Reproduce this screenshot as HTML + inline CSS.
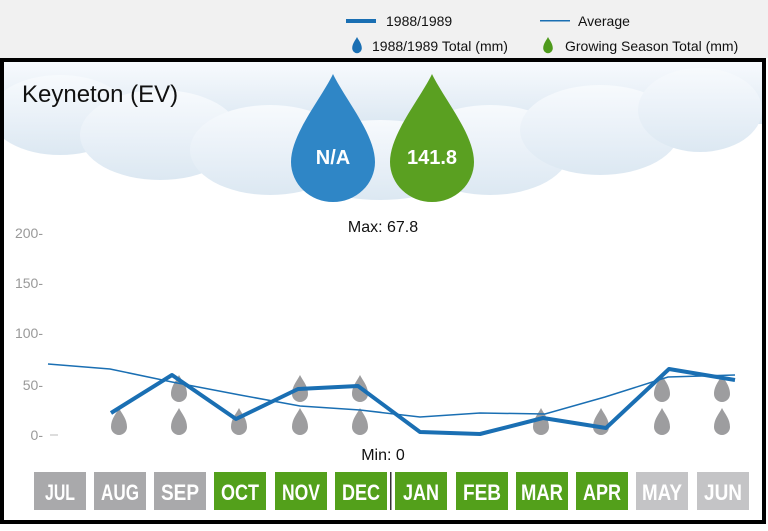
<!DOCTYPE html>
<html><head><meta charset="utf-8"><style>
body{margin:0;width:768px;height:526px;overflow:hidden;background:#fff;font-family:"Liberation Sans",sans-serif}
</style></head><body>
<svg width="768" height="526" viewBox="0 0 768 526" xmlns="http://www.w3.org/2000/svg" font-family="Liberation Sans, sans-serif">
<defs>
<path id="d" d="M0,0 C3,6 8,11 8,19 A8,8 0 0 1 -8,19 C-8,11 -3,6 0,0Z"/>
<path id="bd" d="M0,0 C12,25 42,60 42,88 A42,40 0 0 1 -42,88 C-42,60 -12,25 0,0Z"/>
<linearGradient id="cl" x1="0" y1="0" x2="0" y2="1"><stop offset="0" stop-color="#f7fafd"/><stop offset="0.5" stop-color="#eaf1f8"/><stop offset="1" stop-color="#dce8f2"/></linearGradient>
<clipPath id="fc"><rect x="4" y="62" width="758" height="458"/></clipPath>
</defs>
<rect x="0" y="0" width="768" height="58" fill="#f1f1f1"/>
<text x="386" y="26" font-size="14" fill="#111">1988/1989</text>
<rect x="346" y="19" width="30" height="4" fill="#1a6fb3"/>
<rect x="540" y="20" width="30" height="1.5" fill="#1a6fb3"/>
<text x="578" y="26" font-size="14" fill="#111">Average</text>
<use href="#d" transform="translate(357,37) scale(0.6)" fill="#1a6fb3"/>
<text x="372" y="51" font-size="14" fill="#111">1988/1989 Total (mm)</text>
<use href="#d" transform="translate(548,37) scale(0.6)" fill="#4e9a1c"/>
<text x="565" y="51" font-size="14" fill="#111">Growing Season Total (mm)</text>
<rect x="2" y="60" width="762" height="462" fill="#fff" stroke="#000" stroke-width="4"/>
<g fill="url(#cl)" clip-path="url(#fc)">
<rect x="4" y="62" width="758" height="62"/>
<ellipse cx="60" cy="115" rx="70" ry="40"/>
<ellipse cx="160" cy="135" rx="80" ry="45"/>
<ellipse cx="270" cy="150" rx="80" ry="45"/>
<ellipse cx="380" cy="160" rx="90" ry="40"/>
<ellipse cx="490" cy="150" rx="80" ry="45"/>
<ellipse cx="600" cy="130" rx="80" ry="45"/>
<ellipse cx="700" cy="110" rx="62" ry="42"/>
</g>
<text x="22" y="102" font-size="24" fill="#111">Keyneton (EV)</text>
<use href="#bd" transform="translate(333,74)" fill="#2f86c6"/>
<use href="#bd" transform="translate(432,74)" fill="#5aa021"/>
<text x="333" y="164" font-size="20" font-weight="bold" fill="#fff" text-anchor="middle">N/A</text>
<text x="432" y="164" font-size="20" font-weight="bold" fill="#fff" text-anchor="middle">141.8</text>
<text x="383" y="232" font-size="16" fill="#111" text-anchor="middle">Max: 67.8</text>
<g font-size="14" fill="#999" text-anchor="end">
<text x="43" y="238">200-</text><text x="43" y="288">150-</text><text x="43" y="338">100-</text><text x="43" y="390">50-</text><text x="43" y="440">0-</text>
</g>
<line x1="50" y1="435" x2="58" y2="435" stroke="#bbb"/>
<g fill="#9d9d9f">
<use href="#d" x="119" y="408"/><use href="#d" x="179" y="408"/><use href="#d" x="239" y="408"/><use href="#d" x="300" y="408"/><use href="#d" x="360" y="408"/><use href="#d" x="541" y="408"/><use href="#d" x="601" y="408"/><use href="#d" x="662" y="408"/><use href="#d" x="722" y="408"/>
<use href="#d" x="179" y="375"/><use href="#d" x="300" y="375"/><use href="#d" x="360" y="375"/><use href="#d" x="662" y="375"/><use href="#d" x="722" y="375"/>
</g>
<polyline points="48,364 110,369 172,382 240,395 300,406 360,410 420,417 480,413 545,414 605,397 668,377 735,375" fill="none" stroke="#1a6fb3" stroke-width="1.5"/>
<polyline points="111,413 172,375 236,419 298,389 358,386 420,432 480,434 543,418 606,428 669,369 735,380" fill="none" stroke="#1a6fb3" stroke-width="4" stroke-linejoin="round"/>
<text x="383" y="460" font-size="16" fill="#111" text-anchor="middle">Min: 0</text>
<g font-size="22" font-weight="bold" fill="#fff">
<rect x="34" y="472" width="52" height="38" fill="#a9a9ab"/><text x="45" y="500" textLength="30" lengthAdjust="spacingAndGlyphs">JUL</text>
<rect x="94" y="472" width="52" height="38" fill="#a9a9ab"/><text x="101" y="500" textLength="38" lengthAdjust="spacingAndGlyphs">AUG</text>
<rect x="154" y="472" width="52" height="38" fill="#a9a9ab"/><text x="161" y="500" textLength="38" lengthAdjust="spacingAndGlyphs">SEP</text>
<rect x="214" y="472" width="52" height="38" fill="#53a01b"/><text x="221" y="500" textLength="38" lengthAdjust="spacingAndGlyphs">OCT</text>
<rect x="275" y="472" width="52" height="38" fill="#53a01b"/><text x="282" y="500" textLength="38" lengthAdjust="spacingAndGlyphs">NOV</text>
<rect x="335" y="472" width="52" height="38" fill="#53a01b"/><text x="342" y="500" textLength="38" lengthAdjust="spacingAndGlyphs">DEC</text>
<rect x="390" y="472" width="1.5" height="38" fill="#333"/>
<rect x="395" y="472" width="52" height="38" fill="#53a01b"/><text x="403" y="500" textLength="36" lengthAdjust="spacingAndGlyphs">JAN</text>
<rect x="456" y="472" width="52" height="38" fill="#53a01b"/><text x="463" y="500" textLength="38" lengthAdjust="spacingAndGlyphs">FEB</text>
<rect x="516" y="472" width="52" height="38" fill="#53a01b"/><text x="521" y="500" textLength="42" lengthAdjust="spacingAndGlyphs">MAR</text>
<rect x="576" y="472" width="52" height="38" fill="#53a01b"/><text x="583" y="500" textLength="38" lengthAdjust="spacingAndGlyphs">APR</text>
<rect x="636" y="472" width="52" height="38" fill="#c4c4c6"/><text x="642" y="500" textLength="40" lengthAdjust="spacingAndGlyphs">MAY</text>
<rect x="697" y="472" width="52" height="38" fill="#c4c4c6"/><text x="704" y="500" textLength="38" lengthAdjust="spacingAndGlyphs">JUN</text>
</g>
</svg>
</body></html>
